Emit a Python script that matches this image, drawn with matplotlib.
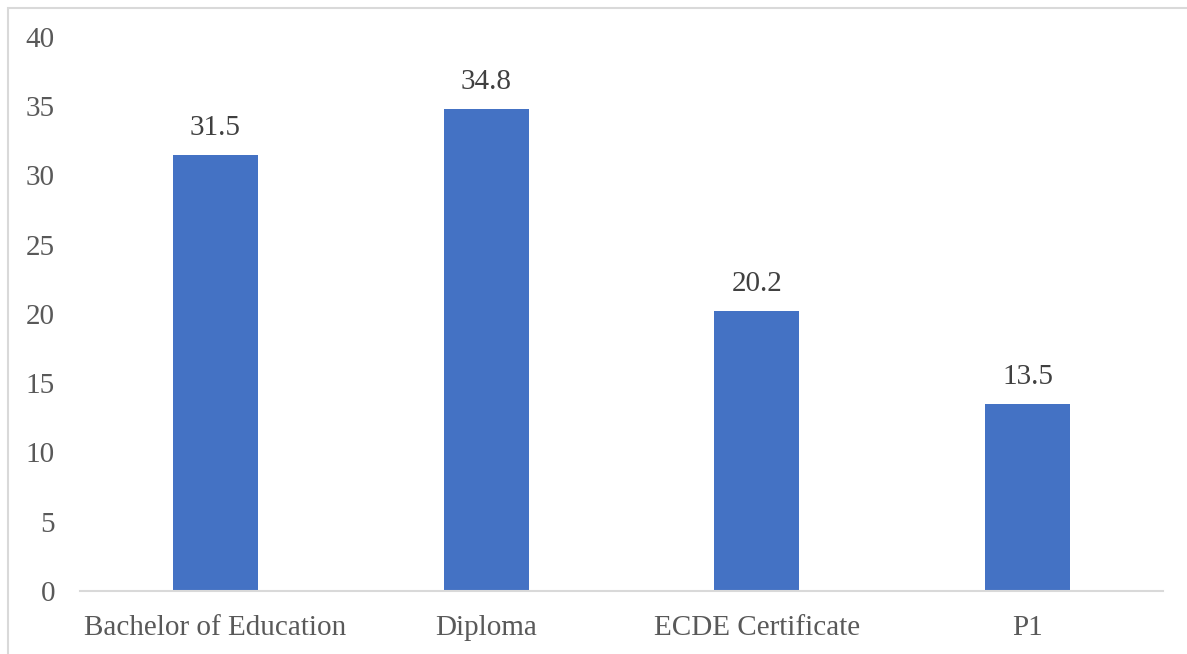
import matplotlib.pyplot as plt
from matplotlib.patches import Rectangle

# Highest qualification of teachers (%)
categories = ['Bachelor of Education', 'Diploma', 'ECDE Certificate', 'P1']
values = [31.5, 34.8, 20.2, 13.5]
yticks = [0, 5, 10, 15, 20, 25, 30, 35, 40]

plt.rcParams['font.family'] = ['Liberation Serif', 'DejaVu Serif']

W, H = 1187, 654
fig = plt.figure(figsize=(W / 100, H / 100), dpi=100)
ax = fig.add_axes([80 / W, (H - 591) / H, (1163 - 80) / W, (591 - 37) / H])

x = range(len(categories))
bars = ax.bar(x, values, width=0.314, color='#4472C4', zorder=2)

for xi, v in zip(x, values):
    ax.text(xi, v + 1.0, f'{v}', ha='center', va='bottom', fontsize=21, color='#404040')

ax.set_xlim(-0.5, len(categories) - 0.5)
ax.set_ylim(0, 40)
ax.set_yticks(yticks)
ax.set_xticks(list(x))
ax.set_xticklabels(categories)
ax.tick_params(axis='both', length=0, labelsize=21, labelcolor='#595959')
ax.tick_params(axis='y', pad=18)
ax.tick_params(axis='x', pad=17)

for s in ['top', 'right', 'left']:
    ax.spines[s].set_visible(False)
ax.spines['bottom'].set_color('#D9D9D9')
ax.spines['bottom'].set_linewidth(1.5)

# chart area border (left and top edges only visible)
fig.add_artist(Rectangle((8 / W, -0.1), 1.2, (H - 7.5) / H + 0.1,
                         transform=fig.transFigure, fill=False,
                         edgecolor='#D9D9D9', linewidth=1.5))

fig.savefig('out.png', dpi=100)
